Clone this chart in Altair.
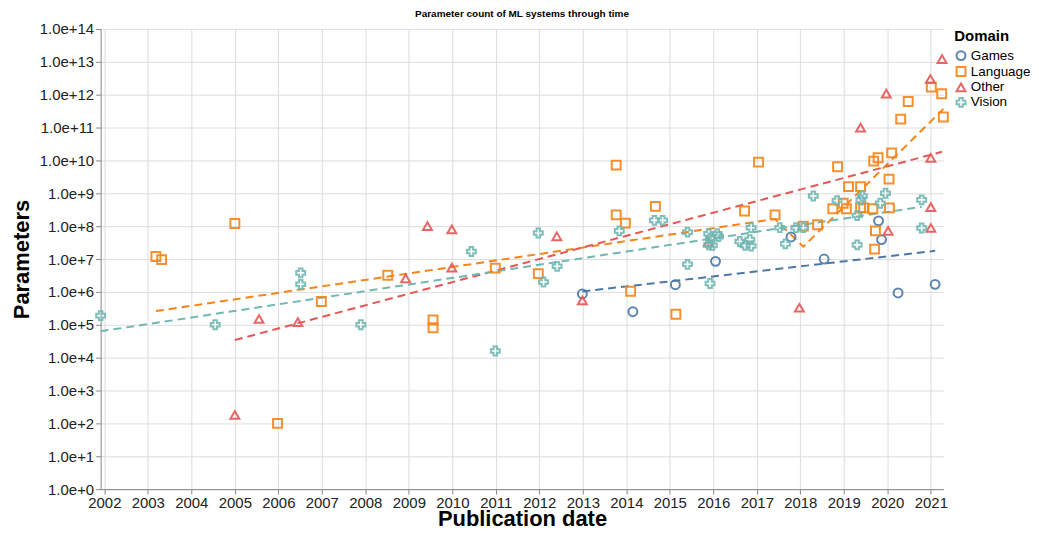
import altair as alt
import pandas as pd

# ---- data ----
games_dates = ["2012-12-28", "2014-02-25", "2015-02-17", "2016-01-20", "2017-10-15",
               "2018-07-20", "2019-10-20", "2019-11-14", "2020-04-01", "2021-02-06"]
games_params = [8.7e5, 2.5e5, 1.66e6, 8.5e6, 4.7e7, 1.0e7, 1.45e8, 3.9e7, 9.3e5, 1.7e6]

language_dates = ["2003-03-10", "2003-04-27", "2005-01-01", "2005-12-25", "2006-12-28",
                  "2008-07-08", "2009-07-23", "2009-07-23", "2010-12-28", "2011-12-24",
                  "2013-10-08", "2013-10-08", "2013-12-24", "2014-02-06", "2014-09-02",
                  "2015-02-21", "2016-09-20", "2017-01-15", "2017-06-03",
                  "2018-01-26", "2018-05-26", "2018-10-01", "2018-11-10", "2018-12-27",
                  "2019-01-23", "2019-02-10", "2019-05-22", "2019-05-22", "2019-06-17",
                  "2019-09-02", "2019-09-09", "2019-09-17", "2019-09-24", "2019-10-16",
                  "2020-01-19", "2020-01-16", "2020-02-07", "2020-04-23", "2020-06-25",
                  "2021-01-05", "2021-04-02", "2021-04-16"]
language_params = [1.2e7, 9.6e6, 1.2e8, 1.0e2, 5.1e5,
                   3.2e6, 1.4e5, 8.1e4, 5.3e6, 3.6e6,
                   7.2e9, 2.2e8, 1.24e8, 1.05e6, 4.0e8,
                   2.1e5, 2.9e8, 8.9e9, 2.2e8,
                   1.0e8, 1.1e8, 3.4e8, 6.4e9, 5.0e8,
                   3.4e8, 1.6e9, 1.6e9, 3.6e8, 3.6e8,
                   3.4e8, 9.5e9, 2.0e7, 7.2e7, 1.2e10,
                   3.6e8, 2.7e9, 1.7e10, 1.8e11, 6.2e11,
                   1.7e12, 1.07e12, 2.1e11]

other_dates = ["2005-01-01", "2005-07-23", "2006-06-14", "2008-12-05", "2009-06-06",
               "2009-12-28", "2009-12-28", "2012-05-27", "2012-12-28", "2015-11-20",
               "2017-12-24", "2019-05-22", "2019-12-24", "2020-01-08", "2020-12-28",
               "2021-01-01", "2021-01-01", "2021-01-01", "2021-04-05"]
other_params = [1.8e2, 1.5e5, 1.2e5, 2.6e6, 1.0e8,
                8.0e7, 5.5e6, 4.9e7, 5.5e5, 3.2e7,
                3.3e5, 1.0e11, 1.07e12, 7.2e7, 3.0e12,
                1.2e10, 3.8e8, 8.8e7, 1.2e13]

vision_dates = ["2001-12-01", "2004-07-20", "2006-07-08", "2006-07-08", "2007-11-25",
                "2010-06-10", "2010-12-28", "2011-12-24", "2012-02-06", "2012-05-30",
                "2013-11-03", "2014-08-25", "2014-11-02", "2015-05-30", "2015-05-30",
                "2015-12-05", "2015-11-24", "2015-12-08", "2016-02-03", "2016-02-14",
                "2015-11-24", "2015-12-24", "2016-08-11", "2016-09-24", "2016-11-03",
                "2016-11-14", "2016-11-14", "2017-07-13", "2017-08-29", "2017-11-25",
                "2018-01-26", "2018-04-20", "2018-11-06", "2019-04-23", "2019-04-23",
                "2019-06-06", "2019-05-25", "2019-11-03", "2019-12-17", "2020-10-16",
                "2020-10-16"]
vision_params = [1.9e5, 1.0e5, 3.8e6, 1.7e6, 1.0e5,
                 1.7e7, 1.6e4, 6.2e7, 2.0e6, 6.0e6,
                 7.2e7, 1.5e8, 1.5e8, 6.6e7, 6.9e6,
                 1.8e6, 5.9e7, 4.3e7, 5.9e7, 4.8e7,
                 2.7e7, 2.6e7, 3.4e7, 2.6e7, 3.9e7,
                 2.5e7, 9.0e7, 9.0e7, 2.9e7, 9.0e7,
                 9.0e7, 8.3e8, 6.0e8, 2.7e7, 2.1e8,
                 8.3e8, 6.2e8, 5.0e8, 1.0e9, 6.3e8,
                 8.8e7]

domains = ["Games", "Language", "Other", "Vision"]
colors = ["#4c78a8", "#f58518", "#e45756", "#72b7b2"]
shapes = ["circle", "square", "triangle-up", "cross"]

rows = []
for dom, ds, ps in [("Games", games_dates, games_params),
                    ("Language", language_dates, language_params),
                    ("Other", other_dates, other_params),
                    ("Vision", vision_dates, vision_params)]:
    for d, p in zip(ds, ps):
        era = "large" if (dom == "Language" and d >= "2018") else "regular"
        rows.append({"Domain": dom, "date": d, "params": p, "era": era})
df = pd.DataFrame(rows)

FONT = "Liberation Sans"

base = alt.Chart(df).transform_calculate(t="time(toDate(datum.date))")

cscale = alt.Scale(domain=domains, range=colors)

xenc = alt.X("t:T", title="Publication date",
             axis=alt.Axis(format="%Y", tickCount=alt.TimeIntervalStep(interval="year", step=1),
                           titlePadding=-1, labelPadding=1))
yscale = alt.Scale(type="log", domain=[1, 1e14])

points = base.mark_point(size=80, filled=False, strokeWidth=2, opacity=0.9).encode(
    x=xenc,
    y=alt.Y("params:Q", title="Parameters", scale=yscale,
            axis=alt.Axis(format=".1e", tickCount=14, titlePadding=6)),
    color=alt.Color("Domain:N", scale=cscale, title="Domain"),
    shape=alt.Shape("Domain:N", scale=alt.Scale(domain=domains, range=shapes), title="Domain"),
)

lines = base.transform_calculate(
    logp="log(datum.params) / LN10"
).transform_regression(
    "t", "logp", groupby=["Domain", "era"]
).transform_calculate(
    params="pow(10, datum.logp)"
).mark_line(strokeDash=[8, 5], strokeWidth=2).encode(
    x=alt.X("t:T"),
    y=alt.Y("params:Q", scale=yscale),
    color=alt.Color("Domain:N", scale=cscale, title="Domain"),
)

chart = alt.layer(lines, points).properties(
    width=846, height=462,
    padding={"left": 2, "top": 0, "right": 0, "bottom": 0},
    title=alt.TitleParams("Parameter count of ML systems through time",
                          fontSize=10, fontWeight="bold", anchor="middle", offset=3),
).configure(font=FONT).configure_axis(
    labelFontSize=15, titleFontSize=22, titleFontWeight="bold", labelColor="#222"
).configure_legend(
    titleFontSize=15, labelFontSize=13.5, symbolSize=80, symbolStrokeWidth=2,
    offset=7, labelOffset=3, rowPadding=-2
).configure_view(stroke=None)

chart.save("out.html", embed_options={"renderer": "svg", "actions": False})
